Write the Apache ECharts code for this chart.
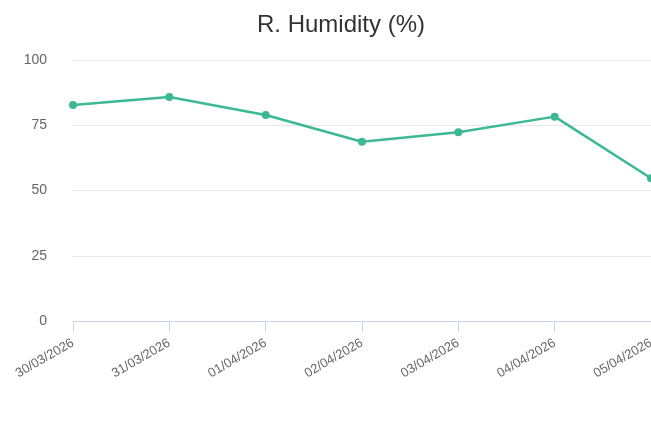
<!DOCTYPE html>
<html><head><meta charset="utf-8">
<script src="https://cdn.jsdelivr.net/npm/echarts@6/dist/echarts.min.js"></script>
<style>html,body{margin:0;padding:0;background:#fff}#c{width:651px;height:439px}</style>
</head><body><div id="c"></div>
<script>
const categories = ['30/03/2026','31/03/2026','01/04/2026','02/04/2026','03/04/2026','04/04/2026','05/04/2026'];
const humidity = [82.8, 85.8, 78.9, 68.7, 72.3, 78.3, 54.7];
const yTicks = [0, 25, 50, 75, 100];

const chart = echarts.init(document.getElementById('c'), null, {renderer:'canvas'});
chart.setOption({
  animation: false,
  textStyle: {fontFamily: 'Liberation Sans, Arial, sans-serif'},
  title: {
    text: 'R. Humidity (%)', left: 252, top: 8,
    textStyle: {fontSize: 24, fontWeight: 'normal', color: '#333333', fontFamily: 'Liberation Sans, Arial, sans-serif'}
  },
  grid: {left: 73, right: 0, top: 60, bottom: 118, containLabel: false, outerBoundsMode: 'none'},
  xAxis: {
    type: 'category', data: categories, boundaryGap: false,
    axisLine: {lineStyle: {color: '#c6d3ec', width: 1}},
    axisTick: {show: true, alignWithLabel: true, length: 11, lineStyle: {color: '#c6d3ec'}},
    axisLabel: {rotate: 30, color: '#666666', fontSize: 13, margin: 21, interval: 0, hideOverlap: false},
    splitLine: {show: false},
    z: 5
  },
  yAxis: {
    type: 'value', min: yTicks[0], max: yTicks[yTicks.length-1], interval: 25,
    axisLine: {show: false}, axisTick: {show: false},
    axisLabel: {color: '#666666', fontSize: 14, margin: 26, padding: [5, 0, 0, 0]},
    splitLine: {lineStyle: {color: '#e6e6e6'}}
  },
  series: [{
    type: 'line', data: humidity,
    lineStyle: {color: '#3cb993', width: 2.5},
    itemStyle: {color: '#3cb993'},
    symbol: 'circle', symbolSize: 8,
    clip: false
  }]
});
</script></body></html>
